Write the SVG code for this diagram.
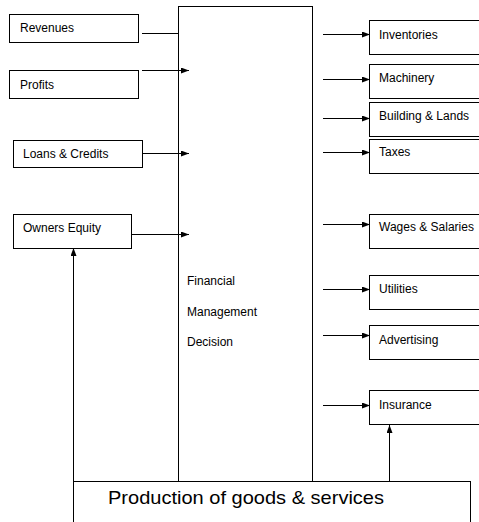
<svg xmlns="http://www.w3.org/2000/svg" width="479" height="522" viewBox="0 0 479 522">
<defs>
<marker id="ah" viewBox="0 0 8 6" refX="8" refY="3" markerWidth="8" markerHeight="6" markerUnits="userSpaceOnUse" orient="auto">
<path d="M0,0 L8,3 L0,6 Z" fill="#000"/>
</marker>
</defs>
<style>
rect{fill:#fff;stroke:#000;stroke-width:1}
text{font-family:"Liberation Sans",Arial,sans-serif;font-size:12px;fill:#000}
.c line{stroke:#000;stroke-width:1}
.a{marker-end:url(#ah)}
</style>
<rect x="0" y="0" width="479" height="522" style="stroke:none"/>
<g id="center"><rect x="178.5" y="6.5" width="134" height="480"/>
<text x="187" y="285">Financial</text>
<text x="187" y="316">Management</text>
<text x="187" y="346">Decision</text></g>
<g id="revenues"><rect x="9.5" y="14.5" width="129" height="28"/><text x="20" y="32">Revenues</text></g>
<g id="profits"><rect x="9.5" y="70.5" width="129" height="28"/><text x="20" y="89">Profits</text></g>
<g id="loans"><rect x="13.5" y="140.5" width="129" height="27"/><text x="23" y="158">Loans &amp; Credits</text></g>
<g id="owners"><rect x="13.5" y="214.5" width="118" height="34"/><text x="23" y="232">Owners Equity</text></g>
<g id="inventories"><rect x="369.5" y="20.5" width="120" height="34"/><text x="379" y="39">Inventories</text></g>
<g id="machinery"><rect x="369.5" y="64.5" width="120" height="34"/><text x="379" y="82">Machinery</text></g>
<g id="building"><rect x="369.5" y="102.5" width="120" height="34"/><text x="379" y="120">Building &amp; Lands</text></g>
<g id="taxes"><rect x="369.5" y="139.5" width="120" height="34"/><text x="379" y="156">Taxes</text></g>
<g id="wages"><rect x="369.5" y="214.5" width="120" height="34"/><text x="379" y="231">Wages &amp; Salaries</text></g>
<g id="utilities"><rect x="369.5" y="275.5" width="120" height="34"/><text x="379" y="293">Utilities</text></g>
<g id="advertising"><rect x="369.5" y="325.5" width="120" height="34"/><text x="379" y="344">Advertising</text></g>
<g id="insurance"><rect x="369.5" y="390.5" width="120" height="34"/><text x="379" y="409">Insurance</text></g>
<g id="production"><rect x="73.5" y="481.5" width="397" height="60"/><text x="108" y="504" style="font-size:19px" textLength="276" lengthAdjust="spacingAndGlyphs">Production of goods &amp; services</text></g>
<g class="c" id="connectors">
<line x1="142" y1="33.5" x2="178" y2="33.5"/>
<line class="a" x1="142" y1="70.5" x2="189" y2="70.5"/>
<line class="a" x1="142" y1="153.5" x2="189" y2="153.5"/>
<line class="a" x1="131" y1="234.5" x2="189" y2="234.5"/>
<line class="a" x1="73.5" y1="481" x2="73.5" y2="248"/>
<line class="a" x1="323" y1="34.5" x2="370" y2="34.5"/>
<line class="a" x1="323" y1="79.5" x2="370" y2="79.5"/>
<line class="a" x1="323" y1="118.5" x2="370" y2="118.5"/>
<line class="a" x1="323" y1="152.5" x2="370" y2="152.5"/>
<line class="a" x1="323" y1="224.5" x2="370" y2="224.5"/>
<line class="a" x1="323" y1="289.5" x2="370" y2="289.5"/>
<line class="a" x1="323" y1="335.5" x2="370" y2="335.5"/>
<line class="a" x1="323" y1="405.5" x2="370" y2="405.5"/>
<line class="a" x1="389.5" y1="481" x2="389.5" y2="425"/>
</g>
</svg>
